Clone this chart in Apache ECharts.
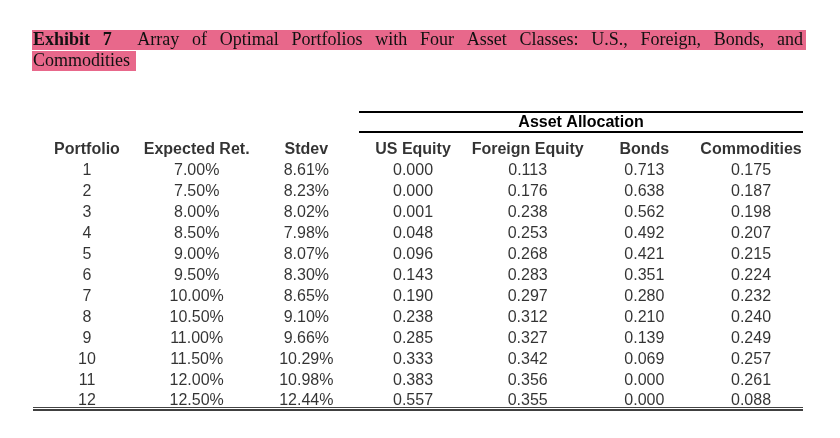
<!DOCTYPE html>
<html>
<head>
<meta charset="utf-8">
<script src="https://cdn.jsdelivr.net/npm/echarts@6/dist/echarts.min.js"></script>
<style>
html,body{margin:0;padding:0;background:#fff;}
#main{width:840px;height:438px;}
</style>
</head>
<body>
<div id="main"></div>
<script>
// ---- data ----
const headers = ['Portfolio', 'Expected Ret.', 'Stdev', 'US Equity', 'Foreign Equity', 'Bonds', 'Commodities'];
const portfolios = [1, 2, 3, 4, 5, 6, 7, 8, 9, 10, 11, 12];
const expectedRet = [7.00, 7.50, 8.00, 8.50, 9.00, 9.50, 10.00, 10.50, 11.00, 11.50, 12.00, 12.50];
const stdev = [8.61, 8.23, 8.02, 7.98, 8.07, 8.30, 8.65, 9.10, 9.66, 10.29, 10.98, 12.44];
const usEquity = [0.000, 0.000, 0.001, 0.048, 0.096, 0.143, 0.190, 0.238, 0.285, 0.333, 0.383, 0.557];
const foreignEquity = [0.113, 0.176, 0.238, 0.253, 0.268, 0.283, 0.297, 0.312, 0.327, 0.342, 0.356, 0.355];
const bonds = [0.713, 0.638, 0.562, 0.492, 0.421, 0.351, 0.280, 0.210, 0.139, 0.069, 0.000, 0.000];
const commodities = [0.175, 0.187, 0.198, 0.207, 0.215, 0.224, 0.232, 0.240, 0.249, 0.257, 0.261, 0.088];
const groupTitle = 'Asset Allocation';
const titleBold = ['Exhibit', '7'];
const titleWords = ['Array', 'of', 'Optimal', 'Portfolios', 'with', 'Four', 'Asset', 'Classes:', 'U.S.,', 'Foreign,', 'Bonds,', 'and'];
const titleLine2 = 'Commodities';

// ---- build ----
const rowCats = ['header'].concat(portfolios.map(p => 'r' + p));
const pct = v => v.toFixed(2) + '%';
const dec = v => v.toFixed(3);
const columns = [
  portfolios.map(String),
  expectedRet.map(pct),
  stdev.map(pct),
  usEquity.map(dec),
  foreignEquity.map(dec),
  bonds.map(dec),
  commodities.map(dec)
];
// small horizontal nudges of each column's text (style only)
const colNudge = [0, -1, -2, -6, -2, 4, 0];

const FONT = '"Liberation Sans", Arial, sans-serif';
const series = [];
headers.forEach((h, ci) => {
  series.push({
    type: 'scatter',
    symbolSize: 1,
    itemStyle: {color: 'rgba(0,0,0,0)'},
    silent: true,
    data: [{value: [ci, 0], name: h}],
    label: {show: true, position: 'inside', formatter: p => p.name, offset: [colNudge[ci], 0],
      fontFamily: FONT, fontSize: 16, fontWeight: 'bold', color: '#000'}
  });
});
columns.forEach((col, ci) => {
  series.push({
    type: 'scatter',
    symbolSize: 1,
    itemStyle: {color: 'rgba(0,0,0,0)'},
    silent: true,
    data: col.map((t, ri) => ({value: [ci, ri + 1], name: t})),
    label: {show: true, position: 'inside', formatter: p => p.name, offset: [colNudge[ci], 0],
      fontFamily: FONT, fontSize: 16, color: '#000'}
  });
});

// title justification
const SERIF = '"Liberation Serif", "Times New Roman", serif';
const TFS = 18;
const cvs = document.createElement('canvas').getContext('2d');
function tw(t, bold) { cvs.font = (bold ? 'bold ' : '') + TFS + 'px ' + SERIF; return cvs.measureText(t).width; }
const words = titleBold.map(w => ({t: w, b: true})).concat(titleWords.map(w => ({t: w, b: false})));
const x0 = 33, x1 = 803;
let total = 0; words.forEach(w => { w.w = tw(w.t, w.b); total += w.w; });
const gapUnits = (words.length - 1) + 1;
const gap = (x1 - x0 - total) / gapUnits;
const PINK = '#E8688B';
const graphics = [
  {type: 'rect', shape: {x: 32, y: 30, width: 774, height: 20}, style: {fill: PINK}, silent: true},
  {type: 'rect', shape: {x: 32, y: 51, width: 104, height: 20}, style: {fill: PINK}, silent: true},
  {type: 'text', x: 33, y: 61, style: {text: titleLine2, font: TFS + 'px ' + SERIF, fill: '#111', verticalAlign: 'middle'}, silent: true}
];
let cx = x0;
words.forEach((w, i) => {
  graphics.push({type: 'text', x: cx, y: 40, style: {text: w.t, font: (w.b ? 'bold ' : '') + TFS + 'px ' + SERIF, fill: '#111', verticalAlign: 'middle'}, silent: true});
  cx += w.w + gap * (i === 1 ? 2 : 1);
});
// table rules
const rule = (xa, xb, y, lw, c) => ({type: 'line', shape: {x1: xa, y1: y, x2: xb, y2: y}, style: {stroke: c || '#000', lineWidth: lw}, silent: true});
graphics.push(rule(359, 803, 112, 2));
graphics.push(rule(359, 803, 132, 2));
graphics.push({type: 'text', x: 581, y: 123, style: {text: groupTitle, font: 'bold 16px ' + FONT, fill: '#000', align: 'center', verticalAlign: 'middle'}, silent: true});
graphics.push(rule(33, 803, 407.5, 1, '#444'));
graphics.push(rule(33, 803, 410, 1.5, '#000'));

const chart = echarts.init(document.getElementById('main'), null, {renderer: 'canvas'});
chart.setOption({
  animation: false,
  backgroundColor: '#fff',
  grid: {left: 31.67, width: 774.67, top: 139.5, height: 272},
  xAxis: {type: 'category', data: headers, show: false, boundaryGap: true},
  yAxis: {type: 'category', data: rowCats, show: false, inverse: true, boundaryGap: true},
  series: series,
  graphic: graphics
});
</script>
</body>
</html>
